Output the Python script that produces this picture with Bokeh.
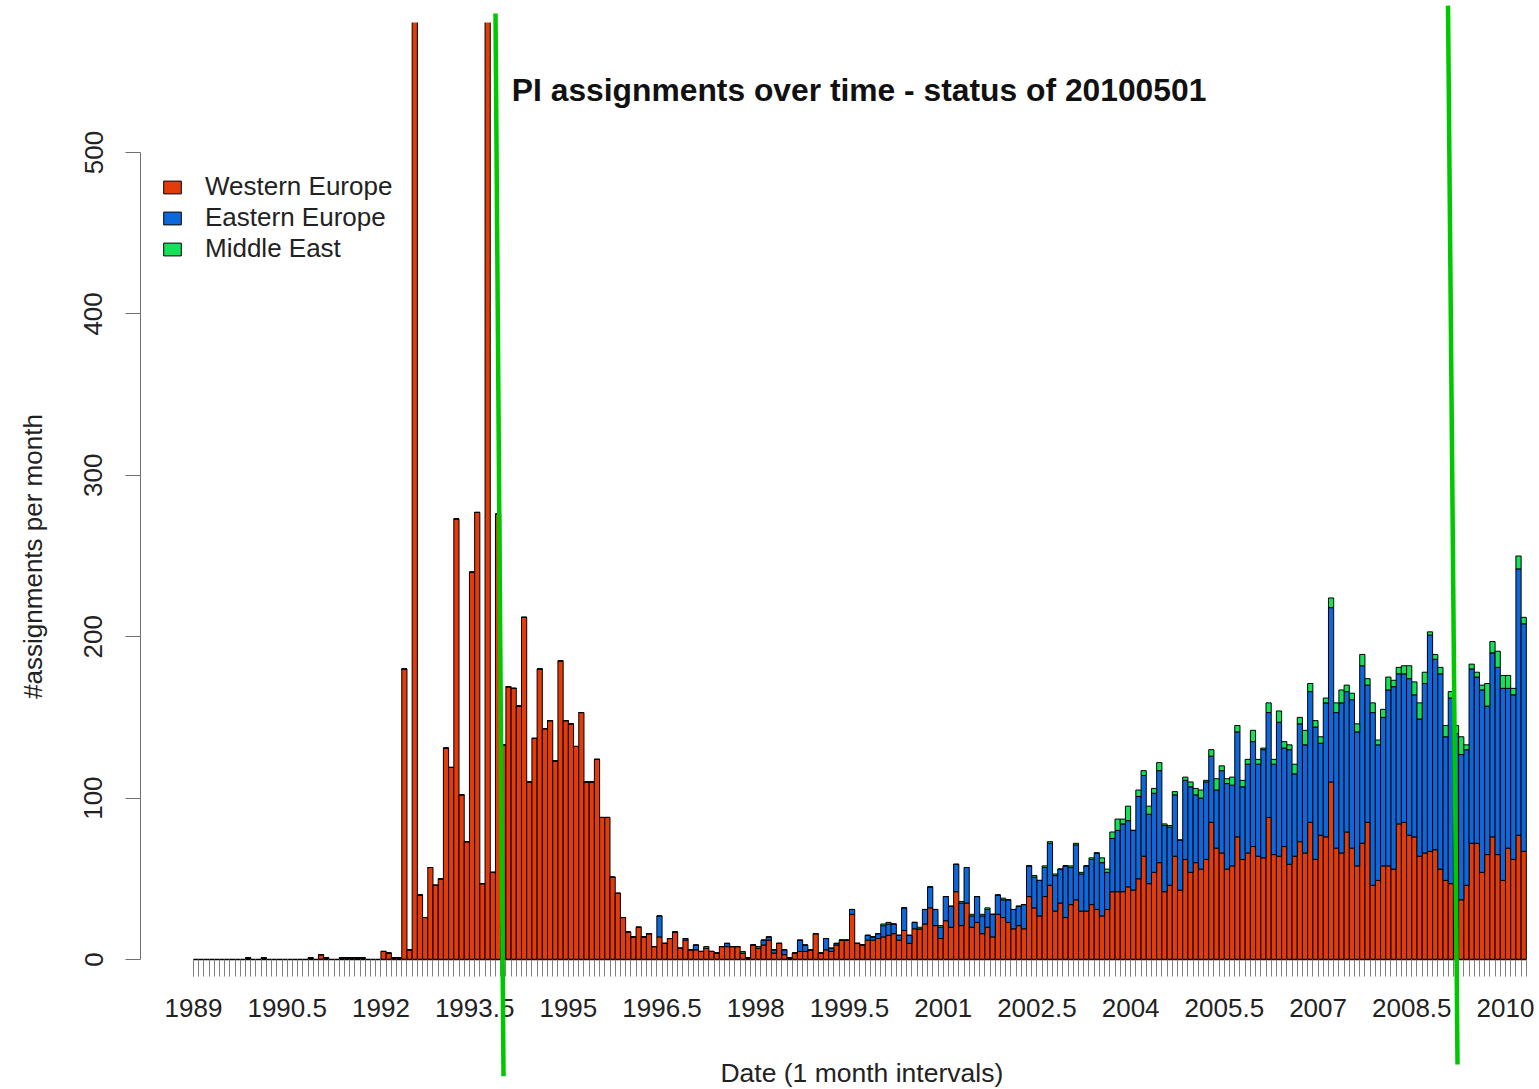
import math

from bokeh.embed import file_html
from bokeh.models import (BoxAnnotation, ColumnDataSource, FixedTicker, Label,
                          PolyAnnotation, Range1d)
from bokeh.plotting import figure
from bokeh.resources import INLINE

# ---------------------------------------------------------------------------
# Monthly PI assignments, January 1989 .. April 2010 (one row per year)
# ---------------------------------------------------------------------------
FIRST_YEAR = 1989

western = [
    0, 0, 0, 0, 0, 0, 0, 0, 0, 0, 1, 0,                   # 1989
    0, 1, 0, 0, 0, 0, 0, 0, 0, 0, 1, 0,                   # 1990
    3, 1, 0, 0, 1, 1, 1, 1, 1, 0, 0, 0,                   # 1991
    5, 4, 1, 1, 180, 6, 590, 40, 26, 57, 46, 50,          # 1992
    131, 119, 273, 102, 73, 240, 277, 47, 588, 54, 276, 133,  # 1993
    169, 168, 157, 212, 110, 137, 180, 143, 148, 123, 185, 148,  # 1994
    146, 132, 153, 110, 110, 124, 88, 88, 51, 41, 26, 17,  # 1995
    14, 20, 14, 16, 8, 14, 10, 13, 17, 7, 12, 6,          # 1996
    6, 5, 7, 5, 4, 8, 8, 8, 8, 4, 1, 9,                   # 1997
    7, 9, 12, 4, 10, 3, 1, 4, 5, 5, 6, 16,                # 1998
    4, 6, 5, 9, 12, 12, 28, 10, 9, 12, 12, 13,            # 1999
    14, 15, 16, 12, 18, 10, 19, 19, 22, 32, 21, 13,       # 2000
    24, 20, 42, 21, 35, 20, 23, 16, 20, 14, 28, 26,       # 2001
    23, 19, 21, 19, 39, 32, 27, 39, 46, 30, 35, 26,       # 2002
    34, 37, 30, 30, 34, 31, 27, 31, 42, 42, 42, 45,       # 2003
    43, 50, 64, 47, 54, 60, 42, 46, 64, 43, 62, 54,       # 2004
    60, 56, 62, 85, 69, 66, 56, 58, 76, 62, 66, 70,       # 2005
    64, 63, 88, 65, 64, 70, 59, 64, 73, 66, 85, 62,       # 2006
    77, 76, 110, 69, 66, 79, 69, 58, 72, 85, 46, 49,      # 2007
    58, 58, 56, 84, 85, 77, 76, 64, 66, 67, 68, 56,       # 2008
    49, 47, 52, 37, 46, 72, 72, 54, 65, 76, 65, 49,       # 2009
    69, 62, 77, 67,                                       # 2010
]

eastern = [
    0, 0, 0, 0, 0, 0, 0, 0, 0, 0, 0, 0,                   # 1989
    0, 0, 0, 0, 0, 0, 0, 0, 0, 0, 0, 0,                   # 1990
    0, 0, 0, 0, 0, 0, 0, 0, 0, 0, 0, 0,                   # 1991
    0, 0, 0, 0, 0, 0, 0, 0, 0, 0, 0, 0,                   # 1992
    0, 0, 0, 0, 0, 0, 0, 0, 0, 0, 0, 0,                   # 1993
    0, 0, 0, 0, 0, 0, 0, 0, 0, 0, 0, 0,                   # 1994
    0, 0, 0, 0, 0, 0, 0, 0, 0, 0, 0, 0,                   # 1995
    0, 0, 0, 0, 0, 13, 0, 0, 0, 0, 1, 0,                  # 1996
    3, 0, 0, 0, 0, 0, 2, 0, 0, 0, 0, 0,                   # 1997
    0, 3, 2, 2, 0, 3, 0, 0, 7, 4, 0, 0,                   # 1998
    0, 7, 2, 1, 0, 0, 3, 0, 0, 3, 2, 3,                   # 1999
    7, 7, 6, 3, 14, 5, 4, 0, 9, 13, 10, 7,                # 2000
    15, 13, 17, 14, 22, 7, 16, 11, 11, 14, 12, 11,        # 2001
    14, 12, 12, 15, 19, 19, 22, 18, 26, 22, 21, 32,       # 2002
    23, 34, 23, 28, 28, 35, 33, 23, 33, 38, 42, 41,       # 2003
    37, 51, 50, 43, 49, 57, 41, 36, 38, 31, 49, 53,       # 2004
    42, 44, 48, 41, 36, 51, 53, 50, 65, 45, 55, 65,       # 2005
    57, 67, 65, 56, 83, 61, 71, 51, 73, 67, 81, 82,       # 2006
    57, 83, 108, 84, 93, 87, 92, 83, 110, 85, 107, 84,    # 2007
    92, 109, 113, 93, 92, 97, 88, 85, 105, 134, 118, 121,  # 2008
    89, 115, 88, 90, 84, 108, 103, 113, 92, 114, 116, 119,  # 2009
    99, 102, 165, 141,                                    # 2010
]

middle_east = [
    0, 0, 0, 0, 0, 0, 0, 0, 0, 0, 0, 0,                   # 1989
    0, 0, 0, 0, 0, 0, 0, 0, 0, 0, 0, 0,                   # 1990
    0, 0, 0, 0, 0, 0, 0, 0, 0, 0, 0, 0,                   # 1991
    0, 0, 0, 0, 0, 0, 0, 0, 0, 0, 0, 0,                   # 1992
    0, 0, 0, 0, 0, 0, 0, 0, 0, 0, 0, 0,                   # 1993
    0, 0, 0, 0, 0, 0, 0, 0, 0, 0, 0, 0,                   # 1994
    0, 0, 0, 0, 0, 0, 0, 0, 0, 0, 0, 0,                   # 1995
    0, 0, 0, 0, 0, 0, 0, 0, 0, 0, 0, 0,                   # 1996
    0, 0, 1, 0, 0, 0, 0, 0, 0, 1, 0, 0,                   # 1997
    1, 0, 0, 0, 0, 0, 0, 0, 0, 0, 0, 0,                   # 1998
    0, 0, 0, 0, 0, 0, 0, 0, 0, 0, 0, 0,                   # 1999
    1, 1, 0, 0, 0, 0, 0, 1, 0, 0, 0, 1,                   # 2000
    0, 0, 0, 1, 0, 1, 0, 1, 1, 0, 0, 1,                   # 2001
    0, 0, 0, 0, 0, 1, 0, 1, 1, 1, 0, 0,                   # 2002
    1, 1, 1, 0, 1, 0, 3, 2, 4, 7, 3, 9,                   # 2003
    0, 4, 3, 5, 3, 5, 1, 1, 2, 0, 2, 3,                   # 2004
    4, 5, 1, 4, 7, 3, 3, 5, 4, 4, 3, 7,                   # 2005
    3, 1, 6, 3, 7, 4, 3, 6, 4, 9, 5, 4,                   # 2006
    4, 3, 6, 6, 8, 4, 4, 5, 7, 4, 6, 3,                   # 2007
    5, 8, 4, 4, 5, 8, 8, 10, 7, 2, 3, 4,                  # 2008
    7, 4, 5, 11, 3, 3, 3, 3, 14, 7, 10, 8,                # 2009
    8, 4, 8, 4,                                           # 2010
]

series_names = ["Western Europe", "Eastern Europe", "Middle East"]
series_colors = ["#E33B0A", "#0E68DC", "#14E05A"]

tick_years = [1989.0, 1990.5, 1992.0, 1993.5, 1995.0, 1996.5, 1998.0, 1999.5,
              2001.0, 2002.5, 2004.0, 2005.5, 2007.0, 2008.5, 2010.0]
tick_labels = ["1989", "1990.5", "1992", "1993.5", "1995", "1996.5", "1998", "1999.5",
               "2001", "2002.5", "2004", "2005.5", "2007", "2008.5", "2010"]
count_ticks = [0, 100, 200, 300, 400, 500]

title_text = "PI assignments over time - status of  20100501"
x_title = "Date  (1 month intervals)"
y_title = "#assignments per month"

# two hand-drawn marker strokes: (year, count) at the upper and lower end
marker_lines = [
    ((1993.834, 586.1), (1993.962, -72.4)),
    ((2009.080, 591.0), (2009.232, -65.0)),
]

# ---------------------------------------------------------------------------
# Page geometry: the plotting frame fills the whole canvas, the axes are
# pinned inside it with fixed_location.
# ---------------------------------------------------------------------------
FONT = "Liberation Sans"
W, H = 1539, 1089
PX_PER_YEAR = 62.476      # horizontal scale
PX_PER_COUNT = 1.614      # vertical scale
ORIGIN_X = 193            # pixel column of January 1989
ORIGIN_Y = 959            # pixel row of the zero line
TOP_CUT = 22              # pixel row where the bar area ends

x_start = FIRST_YEAR - ORIGIN_X / PX_PER_YEAR
x_end = x_start + W / PX_PER_YEAR
y_start = (ORIGIN_Y - H) / PX_PER_COUNT
y_end = ORIGIN_Y / PX_PER_COUNT


def px_to_x(px):
    return x_start + px / PX_PER_YEAR


def py_to_y(py):
    return (ORIGIN_Y - py) / PX_PER_COUNT


n_months = len(western)
month_centers = [FIRST_YEAR + (k + 0.5) / 12 for k in range(n_months)]
month_edges = [FIRST_YEAR + k / 12 for k in range(n_months + 1)]

source = ColumnDataSource(dict(
    month=month_centers,
    western=western,
    eastern=eastern,
    middle_east=middle_east,
))

p = figure(
    width=W, height=H,
    x_range=Range1d(x_start, x_end), y_range=Range1d(y_start, y_end),
    output_backend="svg", toolbar_location=None,
    min_border_left=0, min_border_right=0, min_border_top=0, min_border_bottom=0,
)
p.outline_line_color = None
p.background_fill_color = "white"
p.border_fill_color = "white"
p.xgrid.visible = False
p.ygrid.visible = False

p.vbar_stack(
    ["western", "eastern", "middle_east"], x="month", width=1 / 12, source=source,
    fill_color=series_colors, line_color="black", line_width=1,
    legend_label=series_names,
)

# bar area ends a little above 580 assignments
p.add_layout(BoxAnnotation(bottom=py_to_y(TOP_CUT), top=y_end + 40,
                           left=x_start - 1, right=x_end + 1,
                           fill_color="white", fill_alpha=1, line_color=None))

# x axis: a tick for every month, labels every 18 months
xa = p.xaxis[0]
xa.fixed_location = 0
xa.ticker = FixedTicker(ticks=tick_years, minor_ticks=month_edges)
xa.major_label_overrides = dict(zip(tick_years, tick_labels))
xa.bounds = (month_edges[0], month_edges[-1])
xa.axis_line_color = "black"
xa.axis_line_width = 1.5
xa.major_tick_in = 0
xa.major_tick_out = 17
xa.minor_tick_in = 0
xa.minor_tick_out = 17
xa.major_tick_line_color = "#808080"
xa.minor_tick_line_color = "#808080"
xa.major_label_text_font = FONT
xa.major_label_text_font_size = "26px"
xa.major_label_text_color = "#222222"
xa.major_label_standoff = 22

# y axis, set off to the left of the first bar
ya = p.yaxis[0]
ya.fixed_location = px_to_x(140)
ya.ticker = FixedTicker(ticks=count_ticks)
ya.bounds = (0, 500)
ya.major_label_orientation = "vertical"
ya.axis_line_color = "#707070"
ya.major_tick_line_color = "#707070"
ya.major_tick_in = 0
ya.major_tick_out = 15
ya.minor_tick_line_color = None
ya.major_label_text_font = FONT
ya.major_label_text_font_size = "26px"
ya.major_label_text_color = "#222222"
ya.major_label_standoff = 23

# legend (location is measured from the bottom-left corner of the canvas)
lg = p.legend[0]
lg.location = (161, 825)
lg.border_line_color = None
lg.background_fill_alpha = 0
lg.padding = 0
lg.margin = 0
lg.spacing = 0
lg.glyph_width = 22
lg.glyph_height = 16
lg.label_height = 16
lg.label_standoff = 22
lg.label_text_font = FONT
lg.label_text_font_size = "26px"
lg.label_text_color = "#222222"

# titles
p.add_layout(Label(x=px_to_x(863), y=py_to_y(89), text=title_text,
                   text_font=FONT, text_font_style="bold", text_font_size="31.8px",
                   text_align="center", text_baseline="middle", text_color="#111111"))
p.add_layout(Label(x=px_to_x(865), y=py_to_y(1072), text=x_title,
                   text_font=FONT, text_font_size="26.5px", text_align="center",
                   text_baseline="middle", text_color="#222222"))
p.add_layout(Label(x=px_to_x(32), y=py_to_y(556), text=y_title,
                   angle=math.pi / 2, text_font=FONT, text_font_size="26px",
                   text_align="center", text_baseline="middle", text_color="#222222"))

# marker strokes across the chart
for (mx0, my0), (mx1, my1) in marker_lines:
    p.add_layout(PolyAnnotation(xs=[mx0, mx1], ys=[my0, my1], xs_units="data", ys_units="data",
                                fill_color=None, fill_alpha=0, line_color="#00C800",
                                line_alpha=1, line_width=4.5))

open("out.html", "w").write(file_html(p, INLINE))
